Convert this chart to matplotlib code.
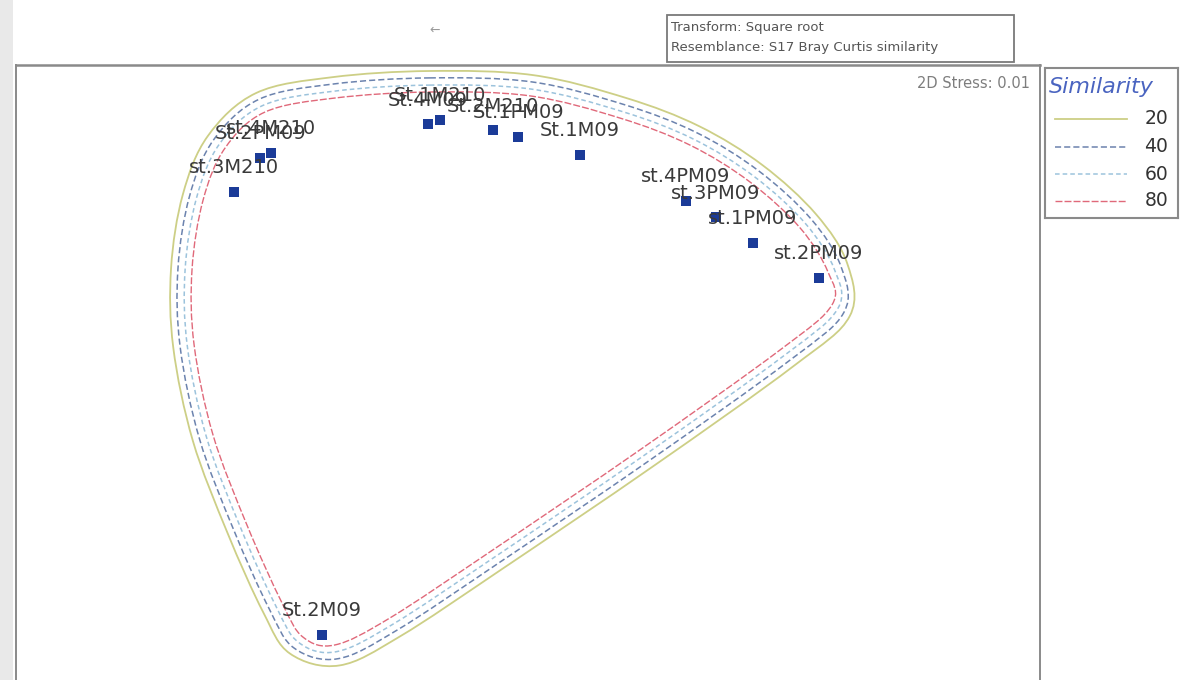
import numpy as np
import matplotlib
matplotlib.use("Agg")
import matplotlib.pyplot as plt
from matplotlib.path import Path
from matplotlib.patches import PathPatch, Rectangle

# ---- NMDS ordination (square-root transform, Bray-Curtis similarity) ----
sample_labels = [
    "st.3M210", "St.2PM09", "st.4M210", "St.4M09", "St.1M210", "St.2M210",
    "St.1PM09", "St.1M09", "st.4PM09", "st.3PM09", "st.1PM09", "st.2PM09",
    "St.2M09",
]
mds1 = [-0.980, -0.893, -0.857, -0.333, -0.293, -0.117,
        -0.033, 0.173, 0.527, 0.627, 0.750, 0.970, -0.687]
mds2 = [0.617, 0.730, 0.747, 0.843, 0.857, 0.823,
        0.800, 0.740, 0.587, 0.533, 0.447, 0.330, -0.860]

stress_2d = 0.01

# Similarity contour (80 %) outline anchors in ordination units
contour_x = [-0.327, 0.007, 0.307, 0.540, 0.740, 0.907, 1.000, 1.013, 0.840,
             0.373, -0.127, -0.460, -0.643, -0.750, -0.820, -0.937, -1.050,
             -1.113, -1.120, -1.083, -1.010, -0.877, -0.643]
contour_y = [0.950, 0.937, 0.863, 0.773, 0.650, 0.497, 0.350, 0.240, 0.090,
             -0.243, -0.583, -0.803, -0.893, -0.867, -0.753, -0.493, -0.193,
             0.107, 0.357, 0.590, 0.763, 0.883, 0.930]

similarity_levels = [20, 40, 60, 80]

# ---- styling ----
level_colors = ["#cdcf86", "#6c83ae", "#9cc3dc", "#e0697a"]
level_styles = ["-", (0, (4, 2)), (0, (3, 2)), (0, (5, 1.5))]
level_widths = [1.3, 1.1, 1.1, 1.0]
level_pad = [0.070, 0.047, 0.023, 0.0]   # spacing of the nested outlines

W, H = 1181, 680
fig = plt.figure(figsize=(W / 100, H / 100), dpi=100)
fig.patch.set_facecolor("white")


def fx(x):
    return x / W


def fy(y):
    return 1 - y / H


def rect(x0, y0, x1, y1):
    return [fx(x0), fy(y1), fx(x1) - fx(x0), fy(y0) - fy(y1)]


# scanned page edge on the left
fig.add_artist(Rectangle((0, 0), fx(13), 1, transform=fig.transFigure,
                         facecolor="#e9e9e9", edgecolor="none", zorder=0))

ax = fig.add_axes(rect(16, 65, 1040, 690))
ax.set_xlim(-1.7067, 1.7067)
ax.set_ylim(-1.0433, 1.04)
ax.set_xticks([])
ax.set_yticks([])
for side, sp in ax.spines.items():
    sp.set_color("#8a8a8a")
    sp.set_linewidth(1.8 if side == "top" else 1.4)


def smooth_closed_path(px, py):
    """Closed Catmull-Rom outline through the anchors as cubic Bezier segments."""
    P = np.column_stack([px, py])
    n = len(P)
    verts = [P[0]]
    codes = [Path.MOVETO]
    for i in range(n):
        p0, p1, p2, p3 = P[i - 1], P[i], P[(i + 1) % n], P[(i + 2) % n]
        verts += [p1 + (p2 - p0) / 6.0, p2 - (p3 - p1) / 6.0, p2]
        codes += [Path.CURVE4] * 3
    return Path(np.array(verts), codes)


def offset_anchors(px, py, d):
    P = np.column_stack([px, py])
    tang = np.roll(P, -1, axis=0) - np.roll(P, 1, axis=0)
    tang /= np.linalg.norm(tang, axis=1)[:, None]
    normal = np.column_stack([-tang[:, 1], tang[:, 0]])
    # orient normals outward
    area = 0.5 * np.sum(P[:, 0] * np.roll(P[:, 1], -1) - np.roll(P[:, 0], -1) * P[:, 1])
    if area > 0:
        normal = -normal
    Q = P + d * normal
    return Q[:, 0], Q[:, 1]


for lev, col, ls, lw, pad in zip(similarity_levels, level_colors, level_styles,
                                 level_widths, level_pad):
    qx, qy = offset_anchors(contour_x, contour_y, pad)
    ax.add_patch(PathPatch(smooth_closed_path(qx, qy), facecolor="none",
                           edgecolor=col, linestyle=ls, linewidth=lw, zorder=2))

ax.scatter(mds1, mds2, marker="s", s=55, color="#1b3b98", edgecolors="none",
           zorder=4)
for lab, x, y in zip(sample_labels, mds1, mds2):
    ax.annotate(lab, (x, y), xytext=(0, 17.3), textcoords="offset points",
                ha="center", va="center", fontsize=14, color="#3a3a3a", zorder=5)

fig.text(fx(1030), fy(83), f"2D Stress: {stress_2d:.2f}", ha="right",
         va="center", fontsize=10.5, color="#7d7d7d")

# ---- info box ----
fig.add_artist(Rectangle((fx(667), fy(62)), fx(1014) - fx(667), fy(15) - fy(62),
                         transform=fig.transFigure, facecolor="white",
                         edgecolor="#7a7a7a", linewidth=1.3))
fig.text(fx(671), fy(28), "Transform: Square root", ha="left", va="center",
         fontsize=9.5, color="#555555")
fig.text(fx(671), fy(47), "Resemblance: S17 Bray Curtis similarity", ha="left",
         va="center", fontsize=9.5, color="#555555")
fig.text(fx(435), fy(30), "\u2190", ha="center", va="center", fontsize=9,
         color="#9a9a9a")

# ---- legend ----
lg = fig.add_axes(rect(1045, 68, 1178, 218))
lg.set_xlim(0, 133)
lg.set_ylim(150, 0)
lg.set_xticks([])
lg.set_yticks([])
for sp in lg.spines.values():
    sp.set_color("#8a8a8a")
    sp.set_linewidth(1.5)
lg.text(4, 19, "Similarity", ha="left", va="center", fontsize=16,
        style="italic", color="#4a64c0")
row_y = [51, 79, 106, 133]
for lev, col, ls, lw, ry in zip(similarity_levels, level_colors, level_styles,
                                level_widths, row_y):
    lg.plot([10, 82], [ry, ry], color=col, linestyle=ls, linewidth=lw)
    lg.text(123, ry, str(lev), ha="right", va="center", fontsize=13.5,
            color="#333333")

fig.savefig("out.png", dpi=100)
